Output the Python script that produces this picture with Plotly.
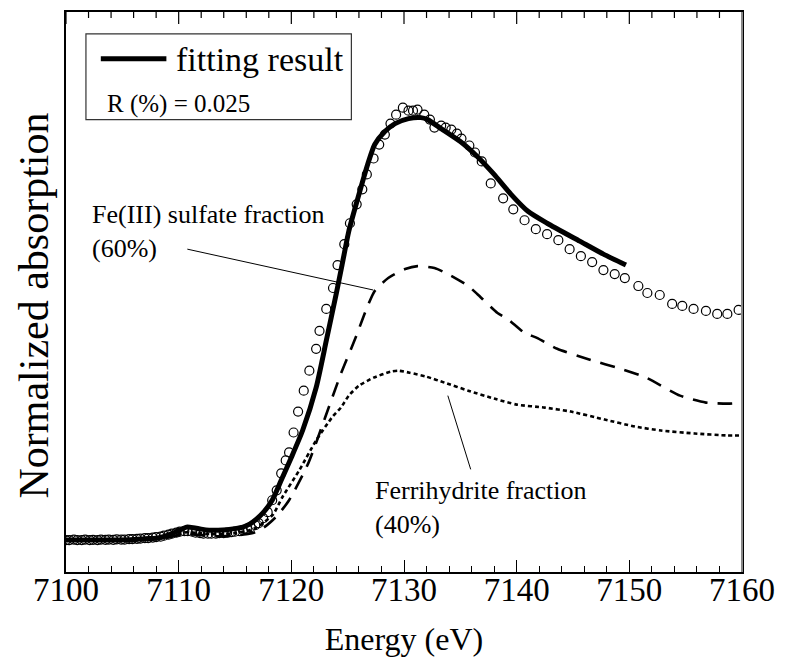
import plotly.graph_objects as go

# Fe K-edge XANES: measured spectrum, linear-combination fit and weighted components
energy_data = [
    7100.0, 7100.3, 7100.7, 7101.0, 7101.4, 7101.7, 7102.1, 7102.4, 7102.8, 7103.1,
    7103.5, 7103.8, 7104.2, 7104.5, 7104.9, 7105.2, 7105.6, 7105.9, 7106.3, 7106.6,
    7107.0, 7107.3, 7107.7, 7108.0, 7108.4, 7108.7, 7109.1, 7109.4, 7109.8, 7110.1,
    7110.5, 7110.8, 7111.2, 7111.5, 7111.9, 7112.2, 7112.6, 7112.9, 7113.3, 7113.6,
    7114.0, 7114.3, 7114.7, 7115.0, 7115.4, 7115.7, 7116.1, 7116.4, 7116.8, 7117.1,
    7117.5, 7117.9, 7118.3, 7118.7, 7119.1, 7119.5, 7119.8, 7120.2, 7120.6, 7121.1,
    7121.6, 7122.2, 7122.5, 7123.1, 7123.7, 7124.1, 7124.7, 7125.2, 7125.8, 7126.3,
    7126.7, 7127.3, 7127.8, 7128.3, 7128.8, 7129.3, 7129.9, 7130.4, 7130.8, 7131.2,
    7131.8, 7132.3, 7132.7, 7133.3, 7133.7, 7134.2, 7134.7, 7135.1, 7135.8, 7136.3,
    7136.9, 7137.7, 7138.8, 7139.7, 7140.7, 7141.7, 7142.7, 7143.7, 7144.7, 7145.7,
    7146.7, 7147.7, 7148.7, 7149.6, 7150.8, 7151.6, 7152.7, 7153.8, 7154.7, 7155.7,
    7156.8, 7157.8, 7158.7, 7159.7,
]
absorption_data = [
    0.000, 0.000, 0.002, 0.000, 0.000, 0.002, 0.000, 0.001, 0.000, 0.002,
    0.001, 0.002, 0.001, 0.003, 0.002, 0.002, 0.004, 0.004, 0.005, 0.006,
    0.008, 0.008, 0.010, 0.012, 0.014, 0.018, 0.022, 0.026, 0.030, 0.034,
    0.036, 0.036, 0.034, 0.030, 0.028, 0.026, 0.026, 0.026, 0.026, 0.028,
    0.028, 0.030, 0.032, 0.034, 0.036, 0.040, 0.046, 0.052, 0.060, 0.068,
    0.088, 0.112, 0.160, 0.200, 0.268, 0.320, 0.352, 0.432, 0.516, 0.600,
    0.680, 0.768, 0.840, 0.928, 1.012, 1.104, 1.188, 1.272, 1.348, 1.408,
    1.468, 1.532, 1.588, 1.628, 1.672, 1.708, 1.736, 1.724, 1.724, 1.728,
    1.708, 1.688, 1.656, 1.664, 1.656, 1.648, 1.632, 1.612, 1.584, 1.556,
    1.520, 1.432, 1.372, 1.328, 1.284, 1.248, 1.228, 1.204, 1.168, 1.140,
    1.116, 1.084, 1.068, 1.052, 1.020, 0.992, 0.984, 0.948, 0.940, 0.928,
    0.920, 0.908, 0.908, 0.924,
]

energy_fit = [
    7100.0, 7104.0, 7106.0, 7107.0, 7108.0, 7108.8, 7109.5, 7110.1, 7110.7, 7111.3,
    7112.0, 7112.7, 7113.5, 7114.3, 7115.0, 7115.7, 7116.3, 7116.9, 7117.5, 7118.3,
    7119.1, 7120.0, 7121.0, 7122.2, 7123.1, 7124.0, 7124.5, 7125.1, 7125.9, 7126.8,
    7127.4, 7128.3, 7129.2, 7130.4, 7131.5, 7132.1, 7133.3, 7135.0, 7136.5, 7138.0,
    7139.5, 7141.0, 7142.7, 7145.6, 7147.7, 7149.7,
]
absorption_fit = [
    0.000, 0.000, 0.002, 0.006, 0.008, 0.016, 0.028, 0.040, 0.052, 0.050,
    0.044, 0.040, 0.040, 0.042, 0.046, 0.052, 0.064, 0.084, 0.110, 0.160,
    0.240, 0.332, 0.440, 0.612, 0.800, 0.992, 1.104, 1.240, 1.372, 1.512,
    1.588, 1.640, 1.672, 1.692, 1.696, 1.688, 1.652, 1.600, 1.540, 1.468,
    1.388, 1.320, 1.272, 1.200, 1.148, 1.104,
]

energy_sulfate = [
    7100.0, 7105.0, 7107.0, 7108.0, 7109.0, 7110.0, 7111.0, 7112.0, 7113.0, 7114.0,
    7115.0, 7116.0, 7116.8, 7117.6, 7118.7, 7119.8, 7121.5, 7123.0, 7124.4, 7125.7,
    7126.6, 7127.4, 7128.6, 7130.1, 7131.2, 7132.7, 7133.9, 7135.7, 7136.5, 7138.3,
    7139.2, 7140.7, 7141.8, 7143.6, 7146.5, 7149.2, 7151.5, 7154.5, 7156.8, 7158.9,
    7160.0,
]
absorption_sulfate = [
    0.000, 0.000, 0.002, 0.004, 0.010, 0.020, 0.024, 0.020, 0.016, 0.016,
    0.018, 0.024, 0.032, 0.052, 0.096, 0.160, 0.308, 0.492, 0.668, 0.812,
    0.920, 1.000, 1.052, 1.088, 1.100, 1.092, 1.068, 1.020, 0.988, 0.912,
    0.888, 0.832, 0.812, 0.768, 0.724, 0.688, 0.652, 0.580, 0.552, 0.548,
    0.552,
]

energy_ferrihydrite = [
    7100.0, 7105.0, 7107.0, 7108.0, 7109.0, 7110.0, 7110.8, 7111.8, 7113.0, 7114.0,
    7115.0, 7116.0, 7116.8, 7117.6, 7118.4, 7119.2, 7120.7, 7122.2, 7123.6, 7124.4,
    7125.1, 7126.0, 7127.3, 7128.8, 7129.5, 7130.5, 7132.0, 7133.6, 7135.7, 7138.0,
    7140.0, 7142.5, 7144.8, 7147.8, 7150.5, 7152.8, 7155.8, 7158.7, 7160.0,
]
absorption_ferrihydrite = [
    0.000, 0.000, 0.004, 0.006, 0.014, 0.026, 0.032, 0.028, 0.024, 0.024,
    0.028, 0.036, 0.048, 0.072, 0.104, 0.172, 0.280, 0.400, 0.492, 0.532,
    0.580, 0.620, 0.652, 0.676, 0.680, 0.672, 0.656, 0.632, 0.600, 0.568,
    0.544, 0.532, 0.516, 0.484, 0.456, 0.440, 0.428, 0.420, 0.420,
]

x_ticks = [7100, 7110, 7120, 7130, 7140, 7150, 7160]
x_tick_labels = ["7100", "7110", "7120", "7130", "7140", "7150", "7160"]
x_minor_ticks = [v for v in range(7102, 7160, 2) if v % 10 != 0]
x_range = [7100, 7160]

FONT = "Liberation Serif"

fig = go.Figure()

fig.add_trace(go.Scatter(
    x=energy_data, y=absorption_data, mode="markers",
    marker=dict(symbol="circle-open", size=9, color="black", line=dict(width=1.2, color="black")),
    showlegend=False, name="data",
))
fig.add_trace(go.Scatter(
    x=energy_sulfate, y=absorption_sulfate, mode="lines",
    line=dict(color="black", width=2.6, dash="15px,10px", shape="spline", smoothing=0.6),
    showlegend=False, name="Fe(III) sulfate fraction",
))
fig.add_trace(go.Scatter(
    x=energy_ferrihydrite, y=absorption_ferrihydrite, mode="lines",
    line=dict(color="black", width=2.6, dash="4px,3px", shape="spline", smoothing=0.6),
    showlegend=False, name="Ferrihydrite fraction",
))
fig.add_trace(go.Scatter(
    x=energy_fit, y=absorption_fit, mode="lines",
    line=dict(color="black", width=5, shape="spline", smoothing=0.6),
    showlegend=False, name="fitting result",
))

# inward tick marks along the top frame edge
for v in x_ticks:
    fig.add_shape(type="line", xref="x", yref="paper", x0=v, x1=v, y0=1, y1=1 - 12 / 562,
                  line=dict(color="black", width=1.2))
for v in x_minor_ticks:
    fig.add_shape(type="line", xref="x", yref="paper", x0=v, x1=v, y0=1, y1=1 - 6 / 562,
                  line=dict(color="black", width=1.2))

# legend box with line sample
fig.add_shape(type="rect", xref="x", yref="y", x0=7101.77, x1=7125.33, y0=1.688, y1=2.032,
              line=dict(color="#333333", width=1.2), fillcolor="white", layer="below")
fig.add_shape(type="line", xref="x", yref="y", x0=7103.09, x1=7108.91, y0=1.932, y1=1.932,
              line=dict(color="black", width=5))
fig.add_annotation(x=7109.62, y=1.928, xref="x", yref="y", text="fitting result",
                   showarrow=False, xanchor="left", yanchor="middle",
                   font=dict(family=FONT, size=34, color="black"))
fig.add_annotation(x=7103.45, y=1.752, xref="x", yref="y", text="R (%) = 0.025",
                   showarrow=False, xanchor="left", yanchor="middle",
                   font=dict(family=FONT, size=25, color="black"))

# component labels and leader lines
fig.add_annotation(x=7102.12, y=1.240, xref="x", yref="y",
                   text="Fe(III) sulfate fraction<br>(60%)", align="left",
                   showarrow=False, xanchor="left", yanchor="middle",
                   font=dict(family=FONT, size=26, color="black"))
fig.add_shape(type="line", xref="x", yref="y", x0=7110.77, y0=1.168, x1=7127.27, y1=1.004,
              line=dict(color="black", width=1))
fig.add_annotation(x=7127.27, y=0.130, xref="x", yref="y",
                   text="Ferrihydrite fraction<br>(40%)", align="left",
                   showarrow=False, xanchor="left", yanchor="middle",
                   font=dict(family=FONT, size=26, color="black"))
fig.add_shape(type="line", xref="x", yref="y", x0=7133.89, y0=0.580, x1=7135.92, y1=0.284,
              line=dict(color="black", width=1))

# vertical axis title
fig.add_annotation(x=-0.048, y=0.475, xref="paper", yref="paper", text="Normalized absorption",
                   textangle=-90, showarrow=False, xanchor="center", yanchor="middle",
                   font=dict(family=FONT, size=42, color="black"))

# right frame edge drawn in grey
fig.add_shape(type="line", xref="paper", yref="paper", x0=1, x1=1, y0=0, y1=1,
              line=dict(color="#888888", width=2))

fig.update_layout(
    width=785, height=661,
    margin=dict(l=66, r=39, t=10, b=89),
    paper_bgcolor="white", plot_bgcolor="white",
    font=dict(family=FONT, color="black"),
    xaxis=dict(
        range=x_range, tickmode="array", tickvals=x_ticks, ticktext=x_tick_labels,
        ticks="inside", ticklen=12, tickwidth=1.2, tickcolor="black",
        minor=dict(dtick=2, ticks="inside", ticklen=6, tickwidth=1.2, tickcolor="black"),
        showline=True, linecolor="black", linewidth=1.5, mirror=True,
        showgrid=False, zeroline=False,
        tickfont=dict(family=FONT, size=33, color="black"),
        ticklabelstandoff=-12,
        title=dict(text="Energy (eV)", font=dict(family=FONT, size=32, color="black"), standoff=20),
    ),
    yaxis=dict(
        range=[-0.128, 2.12], showticklabels=False, ticks="",
        showline=True, linecolor="black", linewidth=1.5, mirror=True,
        showgrid=False, zeroline=False,
    ),
)

fig.write_html("out.html")
